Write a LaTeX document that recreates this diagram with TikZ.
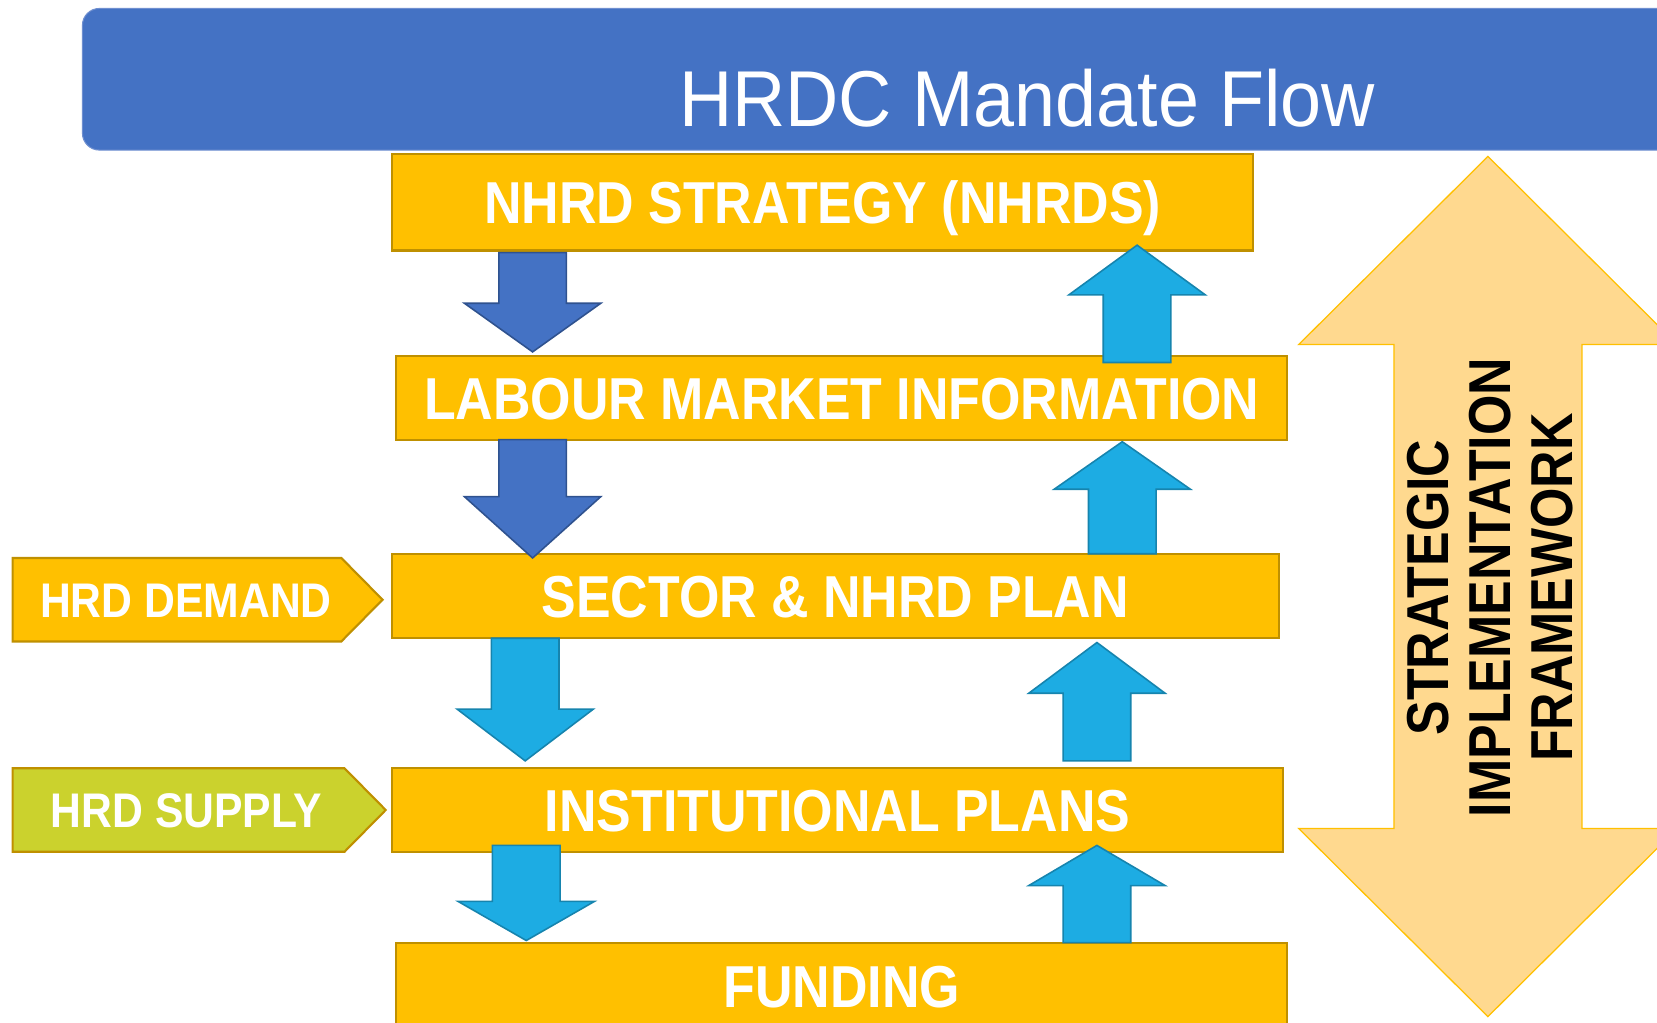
\documentclass[tikz,border=0pt]{standalone}
\usepackage{fontspec}
\setmainfont{Liberation Sans}
\usepackage{graphicx}
\definecolor{orgC}{HTML}{FFC000}
\definecolor{goldC}{HTML}{BF9000}
\definecolor{greenC}{HTML}{CBD22D}
\definecolor{bannerC}{HTML}{4472C4}
\definecolor{bannerB}{HTML}{6F8FD0}
\definecolor{dblue}{HTML}{4472C4}
\definecolor{dblueB}{HTML}{2F528F}
\definecolor{lblue}{HTML}{1DACE3}
\definecolor{lblueB}{HTML}{1684AE}
\definecolor{dblC}{HTML}{FFD98F}
\newcommand\bigb{\fontsize{56}{59}\selectfont\bfseries}
\newcommand\smallb{\fontsize{46}{50}\selectfont\bfseries}
\newcommand\titlef{\fontsize{75}{80}\selectfont}
\newcommand\nar[1]{\scalebox{0.877}[1]{#1}}
\newcommand\blk[5]{\draw[#1] ({#2-32},#3) -- ({#2+32},#3) -- ({#2+32},#4) -- ({#2+64.5},#4) -- (#2,#5) -- ({#2-64.5},#4) -- ({#2-32},#4) -- cycle;}
\begin{document}
\begin{tikzpicture}[x=1pt,y=-1pt,
  box/.style={fill=orgC, draw=goldC, line width=2pt, inner sep=0pt, text=white, font=\bigb, text height=40pt, text depth=0pt},
  tag/.style={draw=goldC, line width=2pt, line join=miter},
  lbl/.style={text=white, font=\smallb, inner sep=0pt, text height=33pt, text depth=0pt},
  darr/.style={fill=dblue, draw=dblueB, line width=1.5pt, line join=miter},
  larr/.style={fill=lblue, draw=lblueB, line width=1.5pt, line join=miter},
  dbl/.style={fill=dblC, draw=orgC, line width=1.2pt, line join=miter}]
\useasboundingbox (0,0) rectangle (1568,968);
\begin{scope}
\clip (0,0) rectangle (1568,968);
% banner
\draw[fill=bannerC, draw=bannerB, line width=1pt, rounded corners=16pt] (78,8) rectangle (1640,142);
\node[anchor=base, text=white, font=\titlef, inner sep=0pt] (title) at (972,120) {\scalebox{0.93}[1]{HRDC Mandate Flow}};
% main boxes
\node[box, minimum width=815pt, minimum height=91pt] (nhrd) at (778.5,191.5) {\nar{NHRD STRATEGY (NHRDS)}};
\node[box, minimum width=843pt, minimum height=79pt] (lmi) at (796.5,376.5) {\nar{LABOUR MARKET INFORMATION}};
\node[box, minimum width=839pt, minimum height=80pt] (sector) at (790.5,564) {\nar{SECTOR \& NHRD PLAN}};
\node[box, minimum width=843pt, minimum height=79pt] (inst) at (792.5,766.5) {\nar{INSTITUTIONAL PLANS}};
\node[box, minimum width=843pt, minimum height=82pt] (fund) at (796.5,933) {\nar{FUNDING}};
% side tags
\draw[tag, fill=orgC] (12,528) -- (323,528) -- (362,567.5) -- (323,607) -- (12,607) -- cycle;
\node[lbl] (demand) at (176,567.5) {\scalebox{0.878}[1]{HRD DEMAND}};
\draw[tag, fill=greenC] (12,727) -- (326,727) -- (365,766.5) -- (326,806) -- (12,806) -- cycle;
\node[lbl] (supply) at (176.5,766.5) {\scalebox{0.878}[1]{HRD SUPPLY}};
% down arrows
\blk{darr}{504}{239}{287}{333}
\blk{darr}{504}{416}{470}{528}
\blk{larr}{497}{604}{671}{720}
\blk{larr}{498}{800}{853}{890}
% up arrows
\blk{larr}{1076}{343}{279}{232}
\blk{larr}{1062}{524}{463}{418}
\blk{larr}{1038}{720}{656}{608}
\blk{larr}{1038}{892}{838}{800}
% double arrow
\draw[dbl] (1408,148) -- (1587,326) -- (1497,326) -- (1497,784) -- (1587,784) -- (1408,962) -- (1229,784) -- (1319,784) -- (1319,326) -- (1229,326) -- cycle;
\node[rotate=90, align=center, font=\bigb, text=black, inner sep=0pt] (sif) at (1410,556) {\nar{STRATEGIC}\\\nar{IMPLEMENTATION}\\\nar{FRAMEWORK}};
\end{scope}
\end{tikzpicture}
\end{document}
